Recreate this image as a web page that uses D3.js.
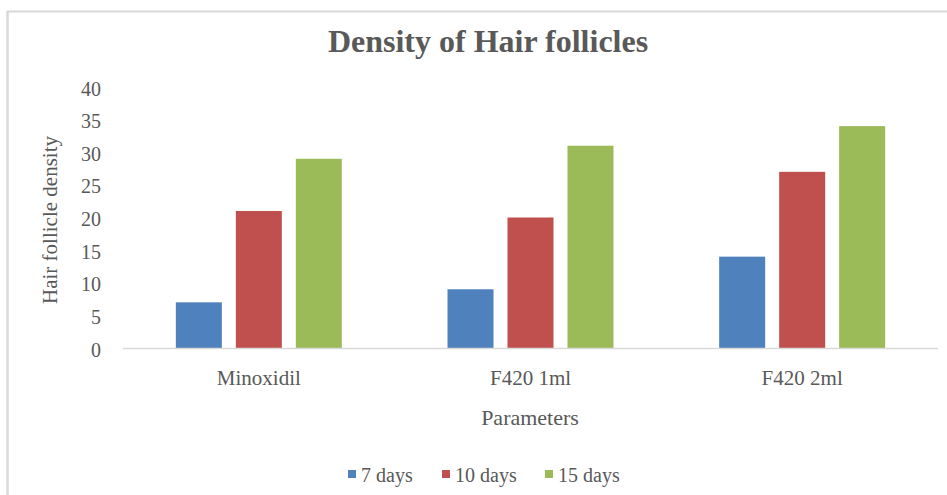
<!DOCTYPE html>
<html><head><meta charset="utf-8">
<script src="https://cdn.jsdelivr.net/npm/d3@7"></script>
<style>body{margin:0;background:#fff}svg{display:block}text{font-family:"Liberation Serif","Times New Roman",serif;fill:#595959}</style>
</head><body>
<script>
const categories = ["Minoxidil", "F420 1ml", "F420 2ml"];
const seriesNames = ["7 days", "10 days", "15 days"];
const days7 = [7, 9, 14];
const days10 = [21, 20, 27];
const days15 = [29, 31, 34];
const yTicks = [0, 5, 10, 15, 20, 25, 30, 35, 40];
const colors = ["#4F81BD", "#C0504D", "#9BBB59"];

const seriesValues = [days7, days10, days15];
const W = 947, H = 495;
const svg = d3.select("body").append("svg").attr("width", W).attr("height", H);

// chart border (top and left visible)
svg.append("line").attr("x1", 7).attr("x2", W).attr("y1", 11.5).attr("y2", 11.5).attr("stroke", "#d9d9d9").attr("stroke-width", 2);
svg.append("line").attr("x1", 7.5).attr("x2", 7.5).attr("y1", 11).attr("y2", H).attr("stroke", "#d9d9d9").attr("stroke-width", 2.5);

const x0 = d3.scaleBand().domain(categories).range([123, 938]).paddingInner(0.389).paddingOuter(0.1945);
const x1 = d3.scaleBand().domain(seriesNames).range([0, x0.bandwidth()]).paddingInner(0.233).paddingOuter(0);
const y = d3.scaleLinear().domain([0, 40]).range([348, 87]);

// bars
const g = svg.append("g");
categories.forEach((c, ci) => {
  seriesNames.forEach((s, si) => {
    const v = seriesValues[si][ci];
    g.append("rect")
      .attr("x", x0(c) + x1(s))
      .attr("y", y(v))
      .attr("width", x1.bandwidth())
      .attr("height", y(0) - y(v))
      .attr("fill", colors[si]);
  });
});

// x axis baseline
svg.append("line").attr("x1", 123).attr("x2", 938).attr("y1", y(0) + 0.5).attr("y2", y(0) + 0.5).attr("stroke", "#d9d9d9").attr("stroke-width", 1.5);

// y axis labels
const yAxis = d3.axisLeft(y).tickValues(yTicks).tickSize(0).tickPadding(0);
const ya = svg.append("g").attr("transform", "translate(101,0)").call(yAxis);
ya.select(".domain").remove();
ya.selectAll("text").style("font-family", '"Liberation Serif",serif').style("font-size", "20px").attr("fill", "#595959").attr("dy", "0.4em");

// x axis labels
const xAxis = d3.axisBottom(x0).tickSize(0).tickPadding(0);
const xa = svg.append("g").attr("transform", "translate(0,370)").call(xAxis);
xa.select(".domain").remove();
xa.selectAll("text").style("font-family", '"Liberation Serif",serif').style("font-size", "21px").attr("fill", "#595959").attr("dy", "0.72em");

// title
svg.append("text").attr("x", 488).attr("y", 52).attr("text-anchor", "middle")
  .style("font-size", "32px").style("font-weight", "bold").text("Density of Hair follicles");

// axis titles
svg.append("text").attr("x", 530).attr("y", 425).attr("text-anchor", "middle").style("font-size", "22px").text("Parameters");
svg.append("text").attr("transform", "translate(57,220) rotate(-90)").attr("text-anchor", "middle").style("font-size", "21px").text("Hair follicle density");

// legend
const legendX = [348, 442, 545];
const lg = svg.append("g");
seriesNames.forEach((s, i) => {
  lg.append("rect").attr("x", legendX[i]).attr("y", 470).attr("width", 8).attr("height", 8).attr("fill", colors[i]);
  lg.append("text").attr("x", legendX[i] + 13).attr("y", 482).style("font-size", "20px").text(s);
});
</script>
</body></html>
